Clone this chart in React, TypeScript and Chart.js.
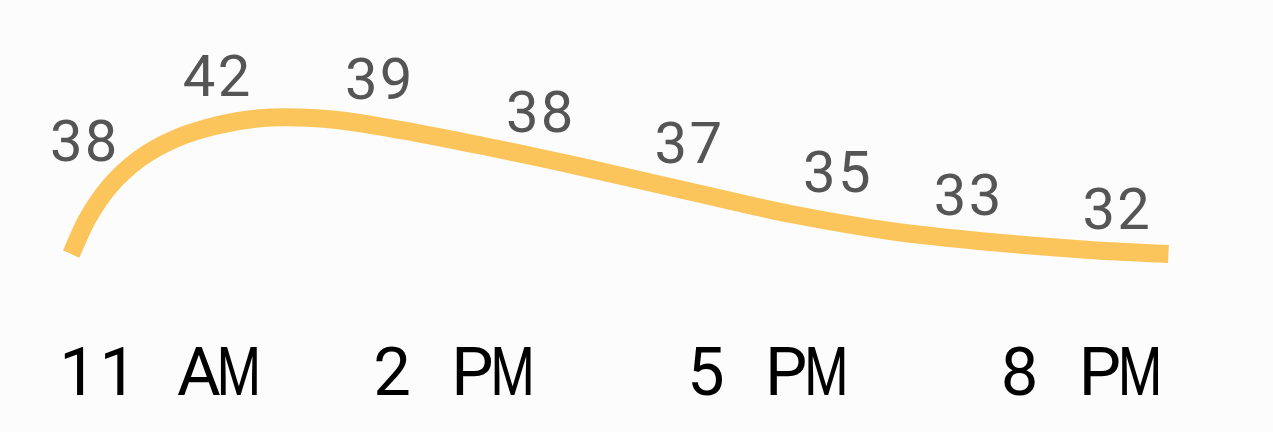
import { useEffect, useRef } from "react";
import Chart from "chart.js/auto";

// smoothed temperature curve (hour of day, °F)
const curveHours = [11.01, 11.17, 11.38, 11.66, 12.0, 12.38, 12.79, 13.2, 13.63, 14.32, 14.95, 15.59, 16.23, 17.03, 17.89, 18.84, 19.8, 20.75, 21.5];
const curveTemps = [32.36, 34.86, 37.08, 38.96, 40.35, 41.25, 41.77, 41.84, 41.6, 40.76, 39.86, 38.89, 37.85, 36.53, 35.14, 33.96, 33.19, 32.64, 32.36];

// temperature readings shown as text above the curve
const tempLabels = [38, 42, 39, 38, 37, 35, 33, 32];
const tempLabelHours = [11.13, 12.4, 13.95, 15.49, 16.91, 18.33, 19.58, 21.0];
const tempLabelLevels = [38.8, 43.3, 43.1, 40.8, 38.7, 36.7, 35.1, 34.1];

// time axis
const timeTicks = [11, 14, 17, 20];
const timeLabels = ["11 AM", "2 PM", "5 PM", "8 PM"];

// draw text one glyph per fixed-width cell, so it reads like a monospaced face
function drawMono(ctx: CanvasRenderingContext2D, text: string, left: number, baseline: number, cell: number) {
  ctx.textAlign = "center";
  ctx.textBaseline = "alphabetic";
  for (let i = 0; i < text.length; i++) {
    const ch = text[i];
    if (ch === " ") continue;
    ctx.fillText(ch, left + cell * (i + 0.5), baseline, cell * 1.1);
  }
}

const labelsPlugin = {
  id: "weatherLabels",
  afterDatasetsDraw(chart: any) {
    const { ctx, scales, chartArea } = chart;
    const xs = scales.x;
    const ys = scales.y;
    ctx.save();

    // temperatures
    const tSize = 58;
    const tCell = tSize * 0.6;
    ctx.font = `400 ${tSize}px Roboto`;
    ctx.fillStyle = "#555555";
    tempLabels.forEach((t, i) => {
      const text = String(t);
      const cx = xs.getPixelForValue(tempLabelHours[i]);
      const y = ys.getPixelForValue(tempLabelLevels[i]);
      drawMono(ctx, text, cx - (text.length * tCell) / 2, y, tCell);
    });

    // hours
    const hSize = 67;
    const hCell = hSize * 0.6;
    ctx.font = `400 ${hSize}px Roboto`;
    ctx.fillStyle = "#000000";
    timeLabels.forEach((label, i) => {
      const x = xs.getPixelForValue(timeTicks[i]) - 12;
      drawMono(ctx, label, x, chartArea.bottom - 37, hCell);
    });

    ctx.restore();
  },
};

function WeatherChart() {
  const chartRef = useRef<HTMLCanvasElement>(null);
  const chartInstance = useRef<Chart | null>(null);

  useEffect(() => {
    if (!chartRef.current) return;
    if (chartInstance.current) {
      chartInstance.current.destroy();
    }
    const ctx = chartRef.current.getContext("2d");
    if (!ctx) return;

    chartInstance.current = new Chart(ctx, {
      type: "line",
      data: {
        datasets: [
          {
            label: "Temperature",
            data: curveHours.map((h, i) => ({ x: h, y: curveTemps[i] })),
            borderColor: "#fbc55b",
            borderWidth: 18,
            borderCapStyle: "butt",
            borderJoinStyle: "round",
            pointRadius: 0,
            fill: false,
            tension: 0.35,
          },
        ],
      },
      options: {
        animation: false,
        responsive: false,
        events: [],
        layout: { padding: 0 },
        plugins: {
          legend: { display: false },
          tooltip: { enabled: false },
        },
        scales: {
          x: { type: "linear", min: 10.33, max: 22.5, display: false },
          y: { min: 20, max: 50, display: false },
        },
      },
      plugins: [labelsPlugin],
    });

    return () => {
      if (chartInstance.current) {
        chartInstance.current.destroy();
        chartInstance.current = null;
      }
    };
  }, []);

  return (
    <div style={{ position: "absolute", left: 0, top: 0, width: 1273, height: 432, background: "#fcfcfc" }}>
      <canvas ref={chartRef} width={1273} height={432} style={{ display: "block" }}></canvas>
    </div>
  );
}

export default function App() {
  return <WeatherChart />;
}
